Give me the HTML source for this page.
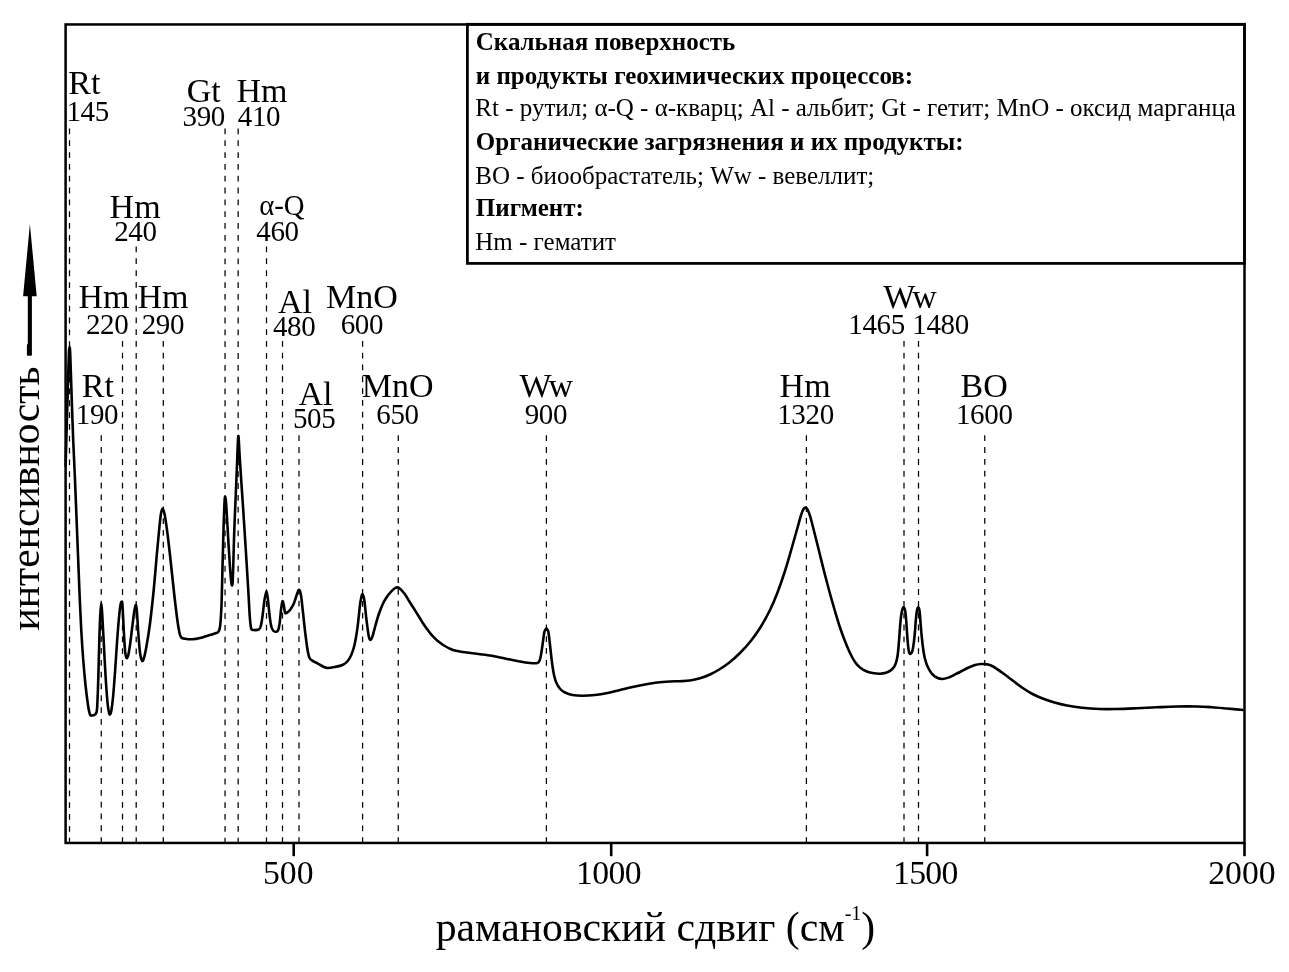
<!DOCTYPE html>
<html lang="ru"><head><meta charset="utf-8"><title>Raman spectrum</title>
<style>
html,body{margin:0;padding:0;background:#fff;}
body{width:1289px;height:972px;overflow:hidden;}
svg{display:block;will-change:transform;filter:grayscale(1);}
text{font-family:"Liberation Serif",serif;fill:#000;}
.b{font-weight:bold;}
</style></head><body>
<svg width="1289" height="972" viewBox="0 0 1289 972">
<rect x="0" y="0" width="1289" height="972" fill="#fff"/>
<g stroke="#000" stroke-width="1.25" stroke-dasharray="5.8 6.02" fill="none">
<line x1="69.50" y1="128.50" x2="69.50" y2="842.95"/>
<line x1="101.25" y1="435.30" x2="101.25" y2="842.95"/>
<line x1="122.50" y1="340.90" x2="122.50" y2="842.95"/>
<line x1="136.20" y1="246.50" x2="136.20" y2="842.95"/>
<line x1="163.30" y1="340.90" x2="163.30" y2="842.95"/>
<line x1="225.05" y1="128.50" x2="225.05" y2="842.95"/>
<line x1="238.15" y1="128.50" x2="238.15" y2="842.95"/>
<line x1="266.50" y1="246.50" x2="266.50" y2="842.95"/>
<line x1="282.50" y1="340.90" x2="282.50" y2="842.95"/>
<line x1="299.00" y1="435.30" x2="299.00" y2="842.95"/>
<line x1="362.60" y1="340.90" x2="362.60" y2="842.95"/>
<line x1="398.25" y1="435.30" x2="398.25" y2="842.95"/>
<line x1="546.40" y1="435.30" x2="546.40" y2="842.95"/>
<line x1="806.40" y1="435.30" x2="806.40" y2="842.95"/>
<line x1="904.00" y1="340.90" x2="904.00" y2="842.95"/>
<line x1="918.50" y1="340.90" x2="918.50" y2="842.95"/>
<line x1="984.75" y1="435.30" x2="984.75" y2="842.95"/>
</g>
<path d="M65.60,467.00 C65.77,460.83 66.23,442.83 66.60,430.00 C66.97,417.17 67.43,402.33 67.80,390.00 C68.17,377.67 68.50,363.17 68.80,356.00 C69.10,348.83 69.35,347.00 69.60,347.00 C69.85,347.00 69.97,348.00 70.30,356.00 C70.63,364.00 71.12,381.00 71.60,395.00 C72.08,409.00 72.63,425.83 73.20,440.00 C73.77,454.17 74.45,467.08 75.00,480.00 C75.55,492.92 76.00,505.00 76.50,517.50 C77.00,530.00 77.50,542.50 78.00,555.00 C78.50,567.50 78.96,580.00 79.50,592.50 C80.04,605.00 80.62,618.75 81.25,630.00 C81.88,641.25 82.54,650.83 83.25,660.00 C83.96,669.17 84.71,677.50 85.50,685.00 C86.29,692.50 87.25,700.08 88.00,705.00 C88.75,709.92 89.33,712.75 90.00,714.50 C90.67,716.25 91.17,715.50 92.00,715.50 C92.83,715.50 94.21,715.21 95.00,714.50 C95.79,713.79 96.33,713.67 96.75,711.25 C97.17,708.83 97.25,705.21 97.50,700.00 C97.75,694.79 97.96,689.58 98.25,680.00 C98.54,670.42 98.92,653.33 99.25,642.50 C99.58,631.67 99.92,621.58 100.25,615.00 C100.58,608.42 100.92,603.00 101.25,603.00 C101.58,603.00 101.83,608.42 102.25,615.00 C102.67,621.58 103.21,632.50 103.75,642.50 C104.29,652.50 104.88,665.00 105.50,675.00 C106.12,685.00 106.92,696.25 107.50,702.50 C108.08,708.75 108.58,710.50 109.00,712.50 C109.42,714.50 109.62,714.71 110.00,714.50 C110.38,714.29 110.75,714.08 111.25,711.25 C111.75,708.42 112.38,703.96 113.00,697.50 C113.62,691.04 114.33,681.67 115.00,672.50 C115.67,663.33 116.33,651.67 117.00,642.50 C117.67,633.33 118.42,623.75 119.00,617.50 C119.58,611.25 120.00,607.62 120.50,605.00 C121.00,602.38 121.62,600.92 122.00,601.75 C122.38,602.58 122.46,605.29 122.75,610.00 C123.04,614.71 123.38,623.33 123.75,630.00 C124.12,636.67 124.58,645.42 125.00,650.00 C125.42,654.58 125.75,656.46 126.25,657.50 C126.75,658.54 127.38,658.33 128.00,656.25 C128.62,654.17 129.25,650.21 130.00,645.00 C130.75,639.79 131.75,630.83 132.50,625.00 C133.25,619.17 133.92,613.33 134.50,610.00 C135.08,606.67 135.58,604.58 136.00,605.00 C136.42,605.42 136.62,607.92 137.00,612.50 C137.38,617.08 137.75,625.83 138.25,632.50 C138.75,639.17 139.38,647.83 140.00,652.50 C140.62,657.17 141.38,659.46 142.00,660.50 C142.62,661.54 143.04,660.92 143.75,658.75 C144.46,656.58 145.24,653.12 146.25,647.50 C147.26,641.88 148.56,634.58 149.80,625.00 C151.04,615.42 152.50,602.08 153.70,590.00 C154.90,577.92 156.03,563.17 157.00,552.50 C157.97,541.83 158.83,532.50 159.50,526.00 C160.17,519.50 160.50,516.40 161.00,513.50 C161.50,510.60 161.92,508.56 162.50,508.60 C163.08,508.64 163.75,510.18 164.50,513.75 C165.25,517.32 166.08,523.12 167.00,530.00 C167.92,536.88 168.88,545.00 170.00,555.00 C171.12,565.00 172.58,579.58 173.75,590.00 C174.92,600.42 176.04,610.33 177.00,617.50 C177.96,624.67 178.79,629.67 179.50,633.00 C180.21,636.33 180.33,636.54 181.25,637.50 C182.17,638.46 183.12,638.46 185.00,638.75 C186.88,639.04 190.00,639.38 192.50,639.25 C195.00,639.12 197.08,638.71 200.00,638.00 C202.92,637.29 207.29,635.83 210.00,635.00 C212.71,634.17 214.79,633.62 216.25,633.00 C217.71,632.38 218.08,632.58 218.75,631.25 C219.42,629.92 219.79,629.38 220.25,625.00 C220.71,620.62 221.12,614.58 221.50,605.00 C221.88,595.42 222.17,580.00 222.50,567.50 C222.83,555.00 223.17,540.83 223.50,530.00 C223.83,519.17 224.21,508.00 224.50,502.50 C224.79,497.00 224.96,496.58 225.25,497.00 C225.54,497.42 225.79,498.67 226.25,505.00 C226.71,511.33 227.38,524.58 228.00,535.00 C228.62,545.42 229.42,559.38 230.00,567.50 C230.58,575.62 231.08,581.04 231.50,583.75 C231.92,586.46 232.22,586.46 232.50,583.75 C232.78,581.04 232.90,576.46 233.20,567.50 C233.50,558.54 233.86,542.50 234.30,530.00 C234.74,517.50 235.38,503.83 235.85,492.50 C236.32,481.17 236.69,471.42 237.10,462.00 C237.51,452.58 237.88,437.17 238.30,436.00 C238.72,434.83 239.12,447.67 239.60,455.00 C240.08,462.33 240.65,471.67 241.20,480.00 C241.75,488.33 242.13,493.33 242.90,505.00 C243.67,516.67 244.88,535.42 245.80,550.00 C246.72,564.58 247.73,581.33 248.40,592.50 C249.07,603.67 249.33,611.00 249.80,617.00 C250.27,623.00 250.54,626.33 251.20,628.50 C251.86,630.67 252.49,629.83 253.75,630.00 C255.01,630.17 257.58,630.12 258.75,629.50 C259.92,628.88 260.12,628.46 260.75,626.25 C261.38,624.04 261.88,620.62 262.50,616.25 C263.12,611.88 263.83,604.17 264.50,600.00 C265.17,595.83 265.92,591.25 266.50,591.25 C267.08,591.25 267.50,596.04 268.00,600.00 C268.50,603.96 268.96,610.62 269.50,615.00 C270.04,619.38 270.62,623.62 271.25,626.25 C271.88,628.88 272.42,629.83 273.25,630.75 C274.08,631.67 275.42,631.88 276.25,631.75 C277.08,631.62 277.67,631.54 278.25,630.00 C278.83,628.46 279.29,625.83 279.75,622.50 C280.21,619.17 280.54,613.54 281.00,610.00 C281.46,606.46 282.04,602.08 282.50,601.25 C282.96,600.42 283.33,603.12 283.75,605.00 C284.17,606.88 284.54,611.17 285.00,612.50 C285.46,613.83 285.67,613.42 286.50,613.00 C287.33,612.58 288.79,611.54 290.00,610.00 C291.21,608.46 292.71,606.04 293.75,603.75 C294.79,601.46 295.54,598.33 296.25,596.25 C296.96,594.17 297.46,592.29 298.00,591.25 C298.54,590.21 299.00,589.38 299.50,590.00 C300.00,590.62 300.42,591.25 301.00,595.00 C301.58,598.75 302.25,605.83 303.00,612.50 C303.75,619.17 304.67,628.33 305.50,635.00 C306.33,641.67 307.27,648.57 308.00,652.50 C308.73,656.43 308.98,657.13 309.90,658.60 C310.82,660.07 312.23,660.50 313.50,661.30 C314.77,662.10 316.00,662.57 317.50,663.40 C319.00,664.23 320.83,665.48 322.50,666.25 C324.17,667.02 325.42,667.88 327.50,668.00 C329.58,668.12 332.50,667.50 335.00,667.00 C337.50,666.50 340.42,665.96 342.50,665.00 C344.58,664.04 346.04,662.92 347.50,661.25 C348.96,659.58 350.08,657.71 351.25,655.00 C352.42,652.29 353.46,649.58 354.50,645.00 C355.54,640.42 356.58,634.17 357.50,627.50 C358.42,620.83 359.32,610.25 360.00,605.00 C360.68,599.75 361.15,597.75 361.60,596.00 C362.05,594.25 362.25,593.83 362.70,594.50 C363.15,595.17 363.67,595.75 364.30,600.00 C364.93,604.25 365.76,613.96 366.50,620.00 C367.24,626.04 368.08,632.92 368.75,636.25 C369.42,639.58 369.86,640.04 370.50,640.00 C371.14,639.96 371.80,638.33 372.60,636.00 C373.40,633.67 374.37,629.33 375.30,626.00 C376.23,622.67 377.30,618.83 378.20,616.00 C379.10,613.17 379.85,611.17 380.70,609.00 C381.55,606.83 382.37,604.87 383.30,603.00 C384.23,601.13 385.35,599.30 386.30,597.80 C387.25,596.30 388.07,595.17 389.00,594.00 C389.93,592.83 390.98,591.72 391.90,590.80 C392.82,589.88 393.67,589.07 394.50,588.50 C395.33,587.93 396.15,587.50 396.90,587.40 C397.65,587.30 398.23,587.43 399.00,587.90 C399.77,588.37 400.53,589.17 401.50,590.20 C402.47,591.23 403.48,592.22 404.80,594.10 C406.12,595.98 407.85,599.03 409.40,601.50 C410.95,603.97 412.55,606.43 414.10,608.90 C415.65,611.37 417.17,613.83 418.70,616.30 C420.23,618.77 421.92,621.58 423.30,623.70 C424.68,625.82 425.77,627.30 427.00,629.00 C428.23,630.70 429.47,632.43 430.70,633.90 C431.93,635.37 433.17,636.57 434.40,637.80 C435.63,639.03 436.50,640.02 438.10,641.30 C439.70,642.58 442.02,644.27 444.00,645.50 C445.98,646.73 448.00,647.82 450.00,648.70 C452.00,649.58 453.92,650.25 456.00,650.80 C458.08,651.35 459.33,651.55 462.50,652.00 C465.67,652.45 470.42,652.92 475.00,653.50 C479.58,654.08 485.00,654.67 490.00,655.50 C495.00,656.33 500.00,657.50 505.00,658.50 C510.00,659.50 515.83,660.75 520.00,661.50 C524.17,662.25 527.29,662.71 530.00,663.00 C532.71,663.29 534.79,663.42 536.25,663.25 C537.71,663.08 538.04,662.96 538.75,662.00 C539.46,661.04 539.88,660.33 540.50,657.50 C541.12,654.67 541.88,649.17 542.50,645.00 C543.12,640.83 543.70,635.15 544.25,632.50 C544.80,629.85 545.34,629.67 545.80,629.10 C546.26,628.53 546.55,628.53 547.00,629.10 C547.45,629.67 548.00,629.85 548.50,632.50 C549.00,635.15 549.42,640.00 550.00,645.00 C550.58,650.00 551.33,657.50 552.00,662.50 C552.67,667.50 553.29,671.67 554.00,675.00 C554.71,678.33 555.25,680.21 556.25,682.50 C557.25,684.79 558.54,687.08 560.00,688.75 C561.46,690.42 562.92,691.46 565.00,692.50 C567.08,693.54 569.58,694.46 572.50,695.00 C575.42,695.54 578.75,695.75 582.50,695.75 C586.25,695.75 590.83,695.46 595.00,695.00 C599.17,694.54 603.33,693.83 607.50,693.00 C611.67,692.17 615.83,691.00 620.00,690.00 C624.17,689.00 628.33,687.92 632.50,687.00 C636.67,686.08 640.83,685.25 645.00,684.50 C649.17,683.75 653.33,683.00 657.50,682.50 C661.67,682.00 666.25,681.72 670.00,681.50 C673.75,681.28 676.67,681.37 680.00,681.20 C683.33,681.03 686.67,680.99 690.00,680.50 C693.33,680.01 696.67,679.25 700.00,678.25 C703.33,677.25 706.67,676.04 710.00,674.50 C713.33,672.96 716.67,671.08 720.00,669.00 C723.33,666.92 726.67,664.67 730.00,662.00 C733.33,659.33 736.67,656.33 740.00,653.00 C743.33,649.67 746.67,646.17 750.00,642.00 C753.33,637.83 756.67,633.33 760.00,628.00 C763.33,622.67 767.08,615.92 770.00,610.00 C772.92,604.08 774.95,599.17 777.50,592.50 C780.05,585.83 782.90,577.50 785.30,570.00 C787.70,562.50 789.92,554.38 791.90,547.50 C793.88,540.62 795.73,533.96 797.20,528.75 C798.67,523.54 799.75,519.34 800.70,516.25 C801.65,513.16 802.25,511.59 802.90,510.20 C803.55,508.81 804.05,508.28 804.60,507.90 C805.15,507.52 805.65,507.52 806.20,507.90 C806.75,508.28 807.18,508.60 807.90,510.20 C808.62,511.80 809.32,513.37 810.50,517.50 C811.68,521.63 813.42,528.75 815.00,535.00 C816.58,541.25 818.33,548.33 820.00,555.00 C821.67,561.67 823.33,568.54 825.00,575.00 C826.67,581.46 828.33,587.71 830.00,593.75 C831.67,599.79 833.33,605.62 835.00,611.25 C836.67,616.88 838.33,622.50 840.00,627.50 C841.67,632.50 843.33,637.00 845.00,641.25 C846.67,645.50 848.33,649.54 850.00,653.00 C851.67,656.46 853.33,659.58 855.00,662.00 C856.67,664.42 858.12,665.96 860.00,667.50 C861.88,669.04 864.17,670.33 866.25,671.25 C868.33,672.17 870.21,672.59 872.50,673.00 C874.79,673.41 877.77,673.73 880.00,673.70 C882.23,673.67 884.12,673.35 885.90,672.80 C887.68,672.25 889.32,671.40 890.70,670.40 C892.08,669.40 893.30,668.13 894.20,666.80 C895.10,665.47 895.53,664.28 896.10,662.40 C896.67,660.52 897.18,658.27 897.60,655.50 C898.02,652.73 898.28,649.37 898.60,645.80 C898.92,642.23 899.15,638.50 899.50,634.10 C899.85,629.70 900.28,623.28 900.70,619.40 C901.12,615.52 901.52,612.80 902.00,610.80 C902.48,608.80 903.07,607.35 903.60,607.40 C904.13,607.45 904.77,608.93 905.20,611.10 C905.63,613.27 905.88,616.57 906.20,620.40 C906.52,624.23 906.78,629.87 907.10,634.10 C907.42,638.33 907.77,642.75 908.10,645.80 C908.43,648.85 908.77,651.05 909.10,652.40 C909.43,653.75 909.72,653.78 910.10,653.90 C910.48,654.02 910.97,653.80 911.40,653.10 C911.83,652.40 912.28,651.57 912.70,649.70 C913.12,647.83 913.52,645.00 913.90,641.90 C914.28,638.80 914.67,634.85 915.00,631.10 C915.33,627.35 915.58,622.78 915.90,619.40 C916.22,616.02 916.52,612.80 916.90,610.80 C917.28,608.80 917.75,607.35 918.20,607.40 C918.65,607.45 919.22,608.62 919.60,611.10 C919.98,613.58 920.18,618.47 920.50,622.30 C920.82,626.13 921.08,629.87 921.50,634.10 C921.92,638.33 922.43,643.63 923.00,647.70 C923.57,651.77 924.08,655.23 924.90,658.50 C925.72,661.77 926.75,664.78 927.90,667.30 C929.05,669.82 930.35,671.90 931.80,673.60 C933.25,675.30 934.82,676.60 936.60,677.50 C938.38,678.40 940.53,678.98 942.50,679.00 C944.47,679.02 946.45,678.30 948.40,677.60 C950.35,676.90 952.27,675.73 954.20,674.80 C956.13,673.87 957.78,673.13 960.00,672.00 C962.22,670.87 965.00,669.17 967.50,668.00 C970.00,666.83 972.71,665.67 975.00,665.00 C977.29,664.33 979.38,664.12 981.25,664.00 C983.12,663.88 984.38,663.88 986.25,664.25 C988.12,664.62 989.88,664.88 992.50,666.25 C995.12,667.62 998.75,670.21 1002.00,672.50 C1005.25,674.79 1008.67,677.50 1012.00,680.00 C1015.33,682.50 1018.67,685.21 1022.00,687.50 C1025.33,689.79 1028.67,691.96 1032.00,693.75 C1035.33,695.54 1038.25,696.79 1042.00,698.25 C1045.75,699.71 1050.33,701.29 1054.50,702.50 C1058.67,703.71 1062.42,704.62 1067.00,705.50 C1071.58,706.38 1076.58,707.17 1082.00,707.75 C1087.42,708.33 1093.67,708.79 1099.50,709.00 C1105.33,709.21 1110.75,709.12 1117.00,709.00 C1123.25,708.88 1130.33,708.54 1137.00,708.25 C1143.67,707.96 1150.33,707.54 1157.00,707.25 C1163.67,706.96 1170.33,706.62 1177.00,706.50 C1183.67,706.38 1191.17,706.38 1197.00,706.50 C1202.83,706.62 1207.00,706.92 1212.00,707.25 C1217.00,707.58 1221.75,708.04 1227.00,708.50 C1232.25,708.96 1240.75,709.75 1243.50,710.00" fill="none" stroke="#000" stroke-width="2.6" stroke-linejoin="round" stroke-linecap="butt"/>
<rect x="65.60" y="24.45" width="1178.90" height="818.50" fill="none" stroke="#000" stroke-width="2.50"/>
<rect x="467.40" y="24.30" width="777.10" height="239.10" fill="none" stroke="#000" stroke-width="2.75"/>
<g stroke="#000" stroke-width="2.6">
<line x1="293.70" y1="842.95" x2="293.70" y2="856.20"/>
<line x1="611.20" y1="842.95" x2="611.20" y2="856.20"/>
<line x1="927.10" y1="842.95" x2="927.10" y2="856.20"/>
<line x1="1244.50" y1="842.95" x2="1244.50" y2="856.20"/>
</g>
<text x="288.25" y="884.1" font-size="33.7" text-anchor="middle">500</text>
<text x="608.50" y="884.1" font-size="33.7" text-anchor="middle" letter-spacing="-0.65">1000</text>
<text x="925.35" y="884.1" font-size="33.7" text-anchor="middle" letter-spacing="-0.65">1500</text>
<text x="1241.95" y="884.1" font-size="33.7" text-anchor="middle">2000</text>
<text x="84.38" y="93.80" font-size="34" text-anchor="middle">Rt</text>
<text x="87.62" y="121.30" font-size="29" text-anchor="middle" letter-spacing="-0.35">145</text>
<text x="203.75" y="101.55" font-size="34" text-anchor="middle">Gt</text>
<text x="203.75" y="126.30" font-size="29" text-anchor="middle" letter-spacing="-0.35">390</text>
<text x="261.88" y="101.55" font-size="34" text-anchor="middle">Hm</text>
<text x="259.00" y="126.30" font-size="29" text-anchor="middle" letter-spacing="-0.35">410</text>
<text x="135.12" y="218.30" font-size="34" text-anchor="middle">Hm</text>
<text x="135.38" y="240.90" font-size="29" text-anchor="middle" letter-spacing="-0.35">240</text>
<text x="281.90" y="215.30" font-size="28.7" text-anchor="middle">α-Q</text>
<text x="277.50" y="240.90" font-size="29" text-anchor="middle" letter-spacing="-0.35">460</text>
<text x="104.00" y="308.30" font-size="34" text-anchor="middle">Hm</text>
<text x="107.12" y="333.65" font-size="29" text-anchor="middle" letter-spacing="-0.35">220</text>
<text x="162.88" y="308.30" font-size="34" text-anchor="middle">Hm</text>
<text x="162.88" y="333.65" font-size="29" text-anchor="middle" letter-spacing="-0.35">290</text>
<text x="295.00" y="313.30" font-size="34" text-anchor="middle">Al</text>
<text x="294.12" y="335.80" font-size="29" text-anchor="middle" letter-spacing="-0.35">480</text>
<text x="361.88" y="308.30" font-size="34" text-anchor="middle">MnO</text>
<text x="361.88" y="333.65" font-size="29" text-anchor="middle" letter-spacing="-0.35">600</text>
<text x="97.88" y="397.05" font-size="34" text-anchor="middle">Rt</text>
<text x="97.00" y="423.80" font-size="29" text-anchor="middle" letter-spacing="-0.35">190</text>
<text x="315.38" y="404.55" font-size="34" text-anchor="middle">Al</text>
<text x="314.12" y="428.30" font-size="29" text-anchor="middle" letter-spacing="-0.35">505</text>
<text x="397.75" y="397.05" font-size="34" text-anchor="middle">MnO</text>
<text x="397.50" y="423.80" font-size="29" text-anchor="middle" letter-spacing="-0.35">650</text>
<text x="546.25" y="397.05" font-size="34" text-anchor="middle">W<tspan dx="-3.2">w</tspan></text>
<text x="545.88" y="423.80" font-size="29" text-anchor="middle" letter-spacing="-0.35">900</text>
<text x="910.00" y="307.80" font-size="34" text-anchor="middle">W<tspan dx="-3.2">w</tspan></text>
<text x="876.62" y="333.65" font-size="29" text-anchor="middle" letter-spacing="-0.35">1465</text>
<text x="940.62" y="333.65" font-size="29" text-anchor="middle" letter-spacing="-0.35">1480</text>
<text x="805.12" y="397.05" font-size="34" text-anchor="middle">Hm</text>
<text x="805.50" y="423.80" font-size="29" text-anchor="middle" letter-spacing="-0.35">1320</text>
<text x="984.12" y="397.05" font-size="34" text-anchor="middle">BO</text>
<text x="984.25" y="423.80" font-size="29" text-anchor="middle" letter-spacing="-0.35">1600</text>
<text x="475.80" y="49.90" font-size="25" class="b">Скальная поверхность</text>
<text x="475.80" y="83.70" font-size="25" class="b">и продукты геохимических процессов:</text>
<text x="475.30" y="116.20" font-size="25">Rt - рутил; α-Q - α-кварц; Al - альбит; Gt - гетит; MnO - оксид марганца</text>
<text x="475.80" y="150.00" font-size="25" class="b">Органические загрязнения и их продукты:</text>
<text x="475.30" y="183.50" font-size="25">BO - биообрастатель; Ww - вевеллит;</text>
<text x="475.80" y="216.10" font-size="25" class="b">Пигмент:</text>
<text x="475.30" y="250.10" font-size="25">Hm - гематит</text>
<text x="435.7" y="941.4" font-size="41.75">рамановский сдвиг (см<tspan font-size="20" dy="-21.8">-1</tspan><tspan dy="21.8">)</tspan></text>
<text transform="translate(38.5,630.6) rotate(-90)" font-size="41.7">интенсивность</text>
<path d="M29.9,224 L23.1,296.2 L27.8,296.2 L27.8,343.5 L26.9,345 L26.9,355 Q26.9,355.8 27.8,355.8 L31.1,355.8 Q31.9,355.8 31.9,355 L31.9,296.2 L36.7,296.2 Z" fill="#000"/>
</svg></body></html>
